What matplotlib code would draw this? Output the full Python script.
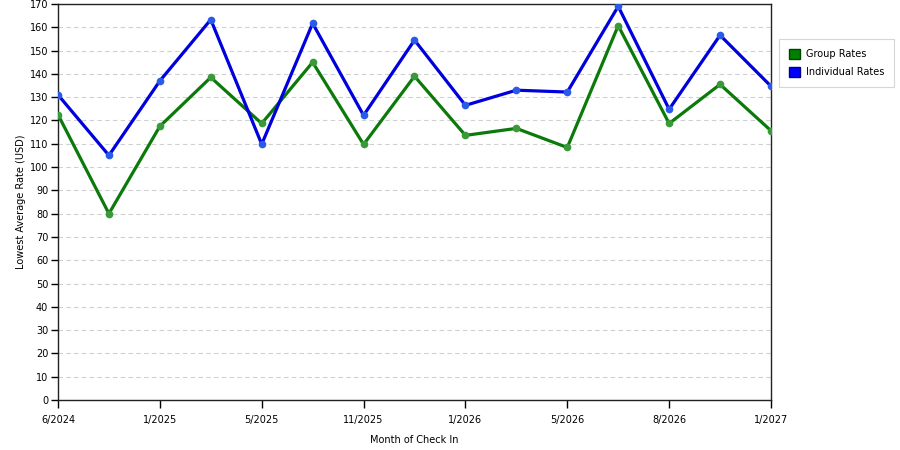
import numpy as np
import matplotlib
matplotlib.use("Agg")
import matplotlib.pyplot as plt
from matplotlib.patches import Patch

# data
months = ["6/2024", "", "1/2025", "", "5/2025", "", "11/2025", "", "1/2026", "",
          "5/2026", "", "8/2026", "", "1/2027"]
group_rates = [122.5, 80, 117.5, 138.5, 118.7, 145, 109.7, 139, 113.6, 116.6,
               108.4, 160.7, 118.7, 135.5, 115.6]
indiv_rates = [131, 105, 137, 163.3, 109.8, 161.7, 122.2, 154.5, 126.5, 133,
               132.2, 169, 124.8, 156.6, 134.7]
yticks = np.arange(0, 171, 10)

plt.rcParams["font.family"] = "DejaVu Sans"
fig = plt.figure(figsize=(9, 4.5), dpi=100)
ax = fig.add_axes([58/900, 50/450, 713/900, 396/450])

x = np.arange(len(months))
green = "#0b7a0b"
blue = "#0000dd"
ax.plot(x, group_rates, color=green, lw=2.3, marker="o", ms=4.5,
        mfc="#3a9a3a", mec="#3a9a3a", zorder=3)
ax.plot(x, indiv_rates, color=blue, lw=2.3, marker="o", ms=4.5,
        mfc="#2a5ae8", mec="#2a5ae8", zorder=4)

ax.set_xlim(0, len(months) - 1)
ax.set_ylim(0, 170)
ax.set_yticks(yticks)
ax.set_yticklabels([str(v) for v in yticks], fontsize=7)
ax.set_xticks(x[::2])
ax.set_xticklabels(months[::2], fontsize=7)
ax.tick_params(axis="x", length=6, width=1, pad=5)
ax.tick_params(axis="y", length=5, width=1, pad=2)
ax.grid(True, axis="y", ls=(0, (4, 3)), color="#d0d0d0", lw=0.8)
ax.set_axisbelow(True)
for s in ax.spines.values():
    s.set_color("#222222")
    s.set_linewidth(1)

ax.set_xlabel("Month of Check In", fontsize=7, labelpad=7)
ax.set_ylabel("Lowest Average Rate (USD)", fontsize=7, labelpad=3)

handles = [Patch(facecolor="#007f00", edgecolor="#004400", label="Group Rates"),
           Patch(facecolor="#0000ff", edgecolor="#000088", label="Individual Rates")]
leg = fig.legend(handles=handles, loc="upper left", bbox_to_anchor=(779/900, 1 - 39/450),
                 fontsize=7, frameon=True, fancybox=False, handlelength=1.2,
                 handleheight=1.3, borderpad=1.0, labelspacing=0.75, handletextpad=0.6,
                 borderaxespad=0)
leg.get_frame().set_edgecolor("#cccccc")
leg.get_frame().set_linewidth(0.8)

fig.savefig("out.png", dpi=100)
